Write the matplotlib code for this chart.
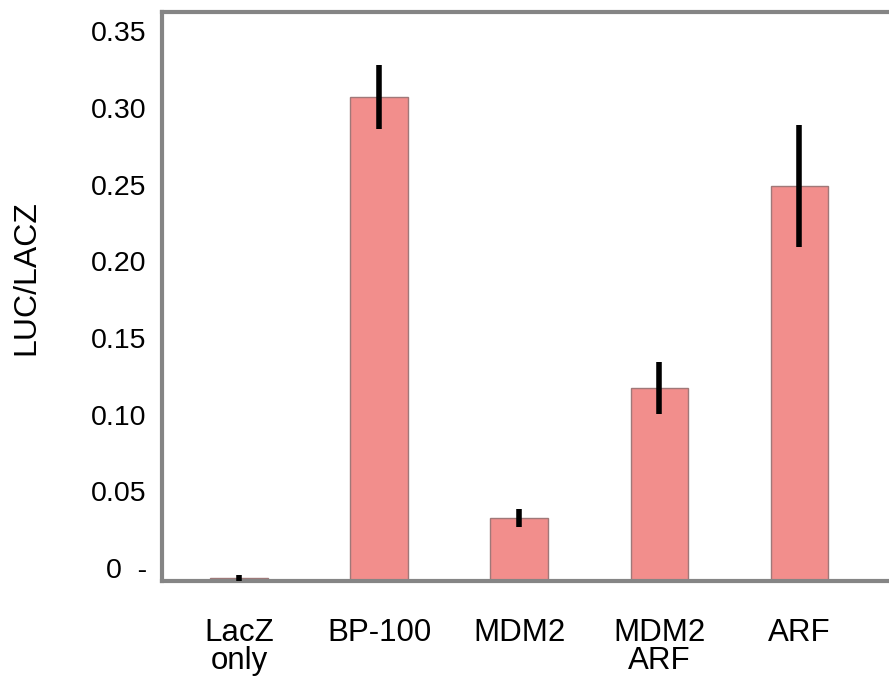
import matplotlib
matplotlib.use('Agg')
import matplotlib.pyplot as plt
import matplotlib.transforms as mtransforms
import numpy as np

plt.rcParams['font.family'] = ['Liberation Sans', 'DejaVu Sans']

categories = ['LacZ\nonly', 'BP-100', 'MDM2', 'MDM2\nARF', 'ARF']
values = [0.002, 0.3155, 0.041, 0.126, 0.2575]
errors = [0.002, 0.021, 0.006, 0.017, 0.040]
ytick_values = [0, 0.05, 0.10, 0.15, 0.20, 0.25, 0.30, 0.35]
ytick_labels = ['0  -', '0.05', '0.10', '0.15', '0.20', '0.25', '0.30', '0.35']

BAR_COLOR = '#f28e8c'
SPINE_COLOR = '#858585'

fig = plt.figure(figsize=(8.89, 6.82), dpi=100)
ax = fig.add_axes([0.1822, 0.1481, 0.8178, 0.8343])

x = np.arange(len(categories))
ax.bar(x, values, width=0.41, color=BAR_COLOR, edgecolor='#a07878', linewidth=1.0, zorder=2)
ax.errorbar(x, values, yerr=errors, fmt='none', ecolor='black', elinewidth=4, capsize=0, zorder=3)

ax.set_xlim(-0.55, 4.64)
ax.set_ylim(0, 0.371)
ax.set_xticks(x)
ax.set_xticklabels(categories, fontsize=22.5, linespacing=0.9)
ax.set_yticks(ytick_values)
ax.set_yticklabels(ytick_labels, fontsize=20.5)
ax.tick_params(axis='x', length=0, pad=27)
ax.tick_params(axis='y', length=0, pad=11)

# labels in the original sit a bit above their tick positions
shift = mtransforms.ScaledTranslation(0, 13 / 100, fig.dpi_scale_trans)
for lab in ax.get_yticklabels():
    lab.set_transform(lab.get_transform() + shift)

ax.set_ylabel('LUC/LACZ', fontsize=23)
ax.yaxis.set_label_coords(-0.166, 0.534)

for side in ['left', 'top', 'bottom']:
    ax.spines[side].set_color(SPINE_COLOR)
    ax.spines[side].set_linewidth(3)
ax.spines['right'].set_visible(False)

fig.savefig('out.png', dpi=100)
